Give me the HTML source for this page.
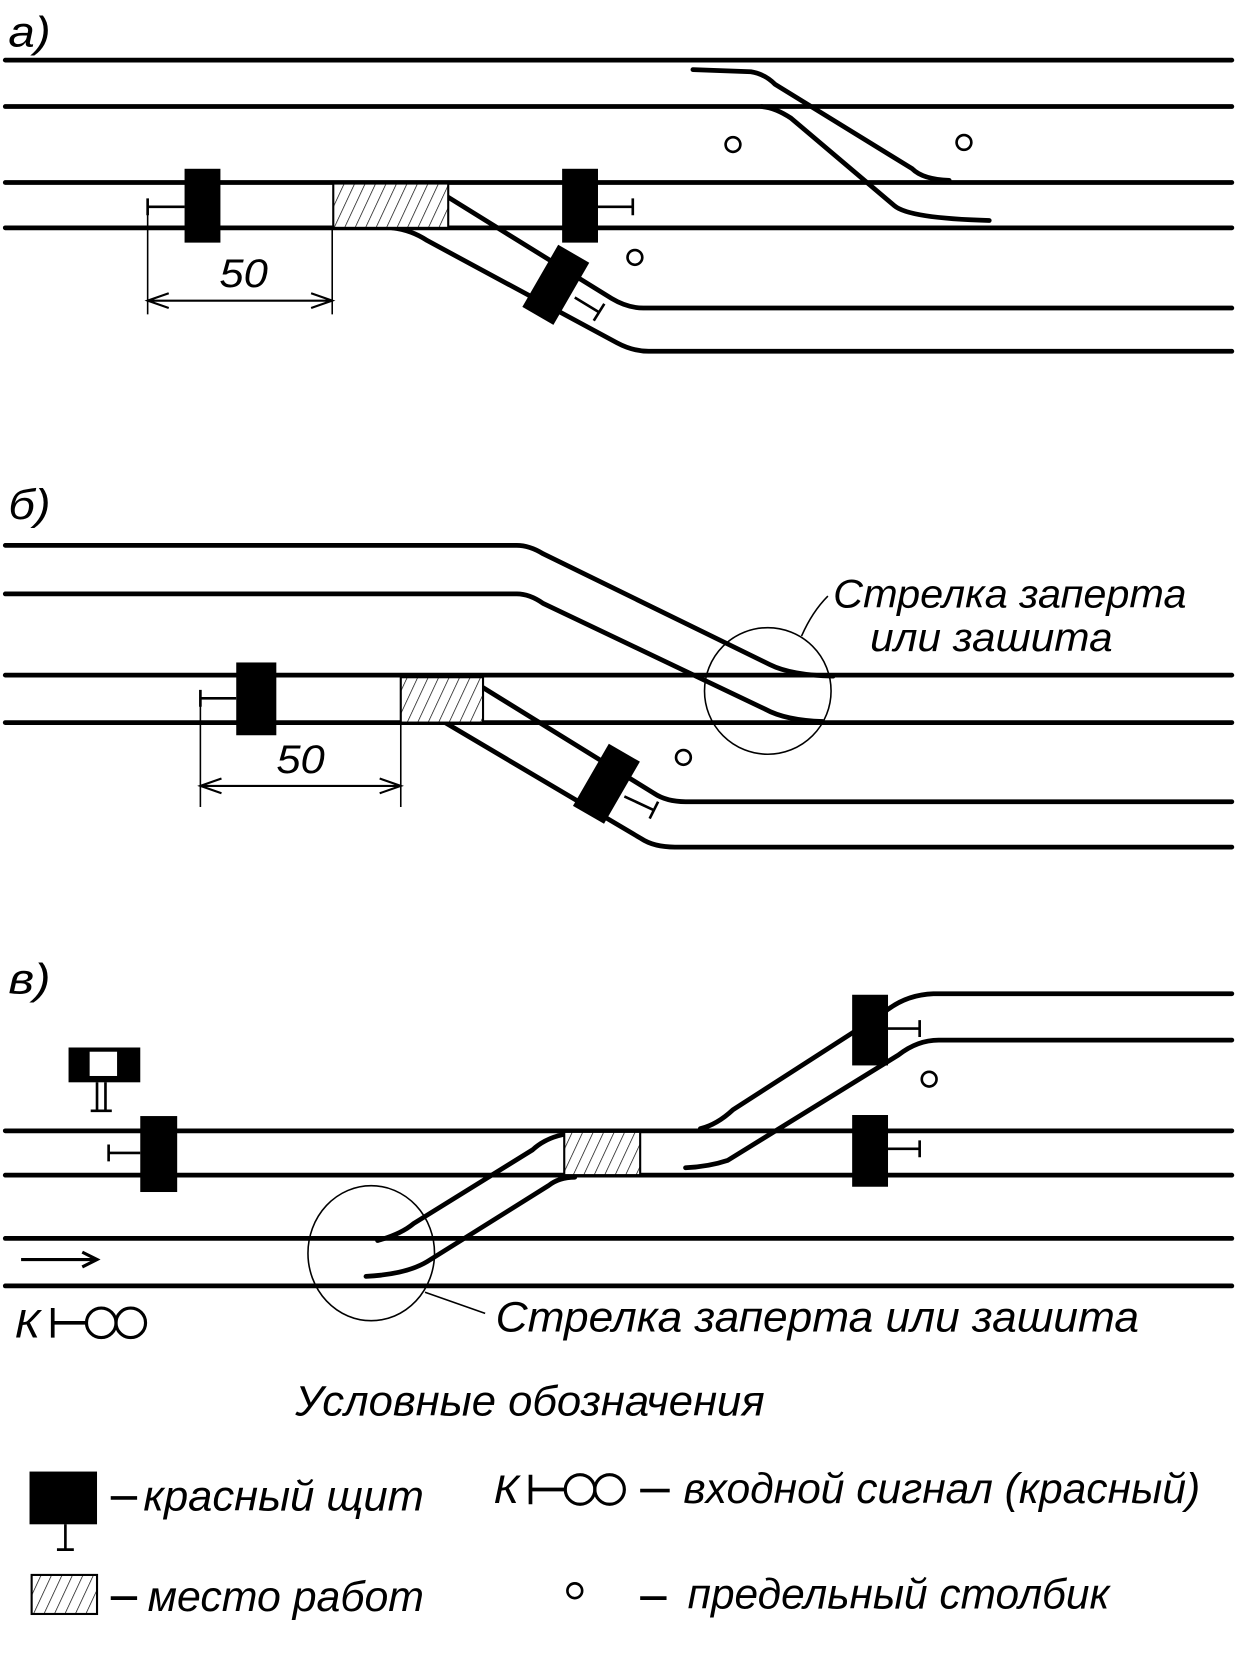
<!DOCTYPE html>
<html><head><meta charset="utf-8"><style>
html,body{margin:0;padding:0;background:#fff;width:1235px;height:1653px;overflow:hidden}
svg{display:block}
text{font-family:"Liberation Sans Narrow","Liberation Sans","DejaVu Sans",sans-serif;font-style:italic;fill:#000}
</style></head><body>
<svg width="1235" height="1653" viewBox="0 0 1171 1567" preserveAspectRatio="none" xmlns="http://www.w3.org/2000/svg">
<defs>
<pattern id="h" width="9" height="9" patternUnits="userSpaceOnUse" patternTransform="rotate(25)">
<rect width="9" height="9" fill="#fff"/><line x1="0" y1="0" x2="0" y2="9" stroke="#000" stroke-width="1.3"/></pattern>
</defs>
<g fill="none" stroke="#000" stroke-width="4.5" stroke-linecap="round">
<!-- a -->
<line x1="5" y1="57" x2="1168" y2="57"/>
<line x1="5" y1="101" x2="1168" y2="101"/>
<line x1="5" y1="173" x2="1168" y2="173"/>
<line x1="5" y1="216" x2="1168" y2="216"/>
<path d="M657,66 L712,68 Q725,70 735,80 L865,160 Q875,170 900,171"/>
<path d="M722,101 Q735,102 750,112 L848,195 Q862,207 938,209"/>
<path d="M372,216 Q390,218 405,228 L585,325 Q600,333 615,333 L1168,333"/>
<path d="M425,187 L580,283 Q595,292 610,292 L1168,292"/>
<!-- б -->
<line x1="5" y1="640" x2="1168" y2="640"/>
<line x1="5" y1="685" x2="1168" y2="685"/>
<path d="M5,517 L490,517 Q502,517 515,525 L730,630 Q750,640 790,641"/>
<path d="M5,563 L490,563 Q502,563 515,572 L725,672 Q745,683 780,684"/>
<path d="M455,650 L620,752 Q632,760 650,760 L1168,760"/>
<path d="M422,685 L608,795 Q620,803 640,803 L1168,803"/>
<!-- в -->
<line x1="5" y1="1072" x2="1168" y2="1072"/>
<line x1="5" y1="1114" x2="1168" y2="1114"/>
<line x1="5" y1="1174" x2="1168" y2="1174"/>
<line x1="5" y1="1219" x2="1168" y2="1219"/>
<path d="M664,1070 Q680,1066 695,1052 L838,960 Q858,943 885,942 L1168,942"/>
<path d="M650,1107 Q672,1106 690,1100 L852,1000 Q870,986 890,986 L1168,986"/>
<path d="M358,1176 Q380,1170 392,1160 L505,1090 Q520,1076 545,1074"/>
<path d="M347,1210 Q385,1208 405,1196 L520,1124 Q530,1116 545,1116"/>
</g>
<g stroke="#000" stroke-width="2" fill="url(#h)">
<rect x="316" y="174" width="109" height="42"/>
<rect x="380" y="642" width="78" height="43"/>
<rect x="535" y="1073" width="72" height="41"/>
<rect x="30" y="1493" width="62" height="37"/>
</g>
<g fill="#000">
<rect x="175" y="160" width="34" height="70"/>
<rect x="533" y="160" width="34" height="70"/>
<rect x="510" y="236" width="34" height="68" transform="rotate(30 527 270)"/>
<rect x="224" y="628" width="38" height="69"/>
<rect x="558" y="709" width="34" height="68" transform="rotate(30 575 743)"/>
<rect x="808" y="943" width="34" height="67"/>
<rect x="808" y="1057" width="34" height="68"/>
<rect x="133" y="1058" width="35" height="72"/>
<rect x="28" y="1395" width="64" height="50"/>
<rect x="65" y="993" width="68" height="33"/>
</g>
<rect x="85" y="997" width="26" height="23" fill="#fff"/>
<g stroke="#000" stroke-width="2.5" fill="none">
<path d="M140,196 H175 M140,188 V204"/>
<path d="M567,196 H600 M600,188 V204"/>
<path d="M545,282 L568,296 M563,304 L573,288"/>
<path d="M190,662 H224 M190,654 V670"/>
<path d="M592,755 L620,768 M616,776 L624,760"/>
<path d="M842,975 H872 M872,967 V983"/>
<path d="M842,1089 H872 M872,1081 V1097"/>
<path d="M103,1093 H133 M103,1085 V1101"/>
<path d="M92,1026 V1052 M100,1026 V1052 M86,1053 H106"/>
<path d="M62,1445 V1468 M54,1469 H70"/>
<line x1="140" y1="196" x2="140" y2="298" stroke-width="1.5"/>
<line x1="315" y1="216" x2="315" y2="298" stroke-width="1.5"/>
<path d="M140,285 H315 M160,278 L140,285 L160,292 M295,278 L315,285 L295,292" stroke-width="2"/>
<line x1="190" y1="662" x2="190" y2="765" stroke-width="1.5"/>
<line x1="380" y1="685" x2="380" y2="765" stroke-width="1.5"/>
<path d="M190,745 H380 M210,738 L190,745 L210,752 M360,738 L380,745 L360,752" stroke-width="2"/>
<circle cx="695" cy="137" r="7"/>
<circle cx="914" cy="135" r="7"/>
<circle cx="602" cy="244" r="7"/>
<circle cx="648" cy="718" r="7"/>
<circle cx="881" cy="1023" r="7"/>
<circle cx="545" cy="1508" r="7"/>
<circle cx="728" cy="655" r="60" stroke-width="1.5"/>
<path d="M760,603 Q770,580 785,565" stroke-width="1.5"/>
<ellipse cx="352" cy="1188" rx="60" ry="64" stroke-width="1.5"/>
<path d="M403,1225 L460,1245" stroke-width="1.5"/>
<path d="M20,1194 H90 M78,1187 L92,1194 L78,1201" stroke-width="3"/>
<path d="M50,1240 V1268 M50,1254 H82" stroke-width="3.5"/>
<circle cx="96" cy="1254" r="14" stroke-width="3"/><circle cx="124" cy="1254" r="14" stroke-width="3"/>
<path d="M503,1398 V1426 M503,1412 H536" stroke-width="3.5"/>
<circle cx="550" cy="1412" r="14" stroke-width="3"/><circle cx="578" cy="1412" r="14" stroke-width="3"/>
<path d="M607,1413 H635 M105,1420 H130 M105,1515 H130 M607,1515 H632" stroke-width="3.5"/>
</g>
<text x="8" y="44" font-size="40" textLength="40" lengthAdjust="spacingAndGlyphs">а)</text>
<text x="8" y="492" font-size="40" textLength="40" lengthAdjust="spacingAndGlyphs">б)</text>
<text x="8" y="942" font-size="40" textLength="40" lengthAdjust="spacingAndGlyphs">в)</text>
<text x="208" y="272" font-size="38" textLength="46" lengthAdjust="spacingAndGlyphs">50</text>
<text x="262" y="733" font-size="38" textLength="46" lengthAdjust="spacingAndGlyphs">50</text>
<text x="790" y="576" font-size="38" textLength="335" lengthAdjust="spacingAndGlyphs">Стрелка заперта</text>
<text x="825" y="617" font-size="38" textLength="230" lengthAdjust="spacingAndGlyphs">или зашита</text>
<text x="470" y="1262" font-size="40" textLength="610" lengthAdjust="spacingAndGlyphs">Стрелка заперта или зашита</text>
<text x="14" y="1268" font-size="38" textLength="24" lengthAdjust="spacingAndGlyphs">К</text>
<text x="280" y="1342" font-size="40" textLength="445" lengthAdjust="spacingAndGlyphs">Условные обозначения</text>
<text x="136" y="1432" font-size="40" textLength="266" lengthAdjust="spacingAndGlyphs">красный щит</text>
<text x="468" y="1425" font-size="38" textLength="24" lengthAdjust="spacingAndGlyphs">К</text>
<text x="648" y="1425" font-size="40" textLength="490" lengthAdjust="spacingAndGlyphs">входной сигнал (красный)</text>
<text x="140" y="1527" font-size="40" textLength="262" lengthAdjust="spacingAndGlyphs">место работ</text>
<text x="652" y="1525" font-size="40" textLength="400" lengthAdjust="spacingAndGlyphs">предельный столбик</text>
</svg>
</body></html>
